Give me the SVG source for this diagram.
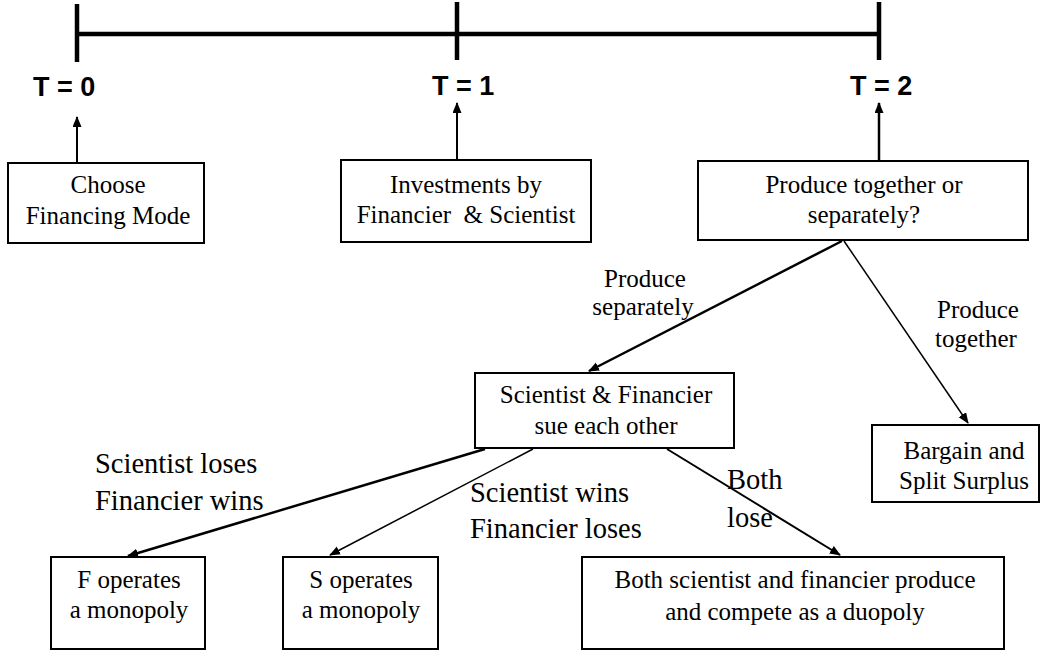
<svg xmlns="http://www.w3.org/2000/svg" width="1042" height="653" viewBox="0 0 1042 653">
<defs>
<marker id="ah" markerUnits="userSpaceOnUse" markerWidth="12" markerHeight="10" refX="10" refY="4.5" orient="auto"><path d="M0,0 L11,4.5 L0,9 z" fill="#000"/></marker>
</defs>
<style>
.box{fill:#fff;stroke:#000;stroke-width:2}
.t{font-family:"Liberation Serif","Times New Roman",serif;font-size:25px;fill:#000;text-anchor:middle}
.lab{font-family:"Liberation Serif","Times New Roman",serif;font-size:28.5px;fill:#000}
.tl{font-family:"Liberation Sans",Arial,sans-serif;font-weight:bold;font-size:27px;fill:#000}
.tline{stroke:#000;stroke-width:4.5;fill:none}
.conn{stroke:#000;fill:none}
</style>
<rect width="1042" height="653" fill="#fff"/>
<g id="timeline">
<line class="tline" x1="77" y1="34" x2="879" y2="34"/>
<line class="tline" x1="77" y1="4" x2="77" y2="62"/>
<line class="tline" x1="457" y1="2" x2="457" y2="60"/>
<line class="tline" x1="879" y1="2" x2="879" y2="60"/>
<text class="tl" x="33" y="96">T = 0</text>
<text class="tl" x="432" y="95">T = 1</text>
<text class="tl" x="850" y="95">T = 2</text>
</g>
<g id="connectors">
<line class="conn" stroke-width="2" x1="77" y1="163" x2="77" y2="117" marker-end="url(#ah)"/>
<line class="conn" stroke-width="2" x1="457" y1="160" x2="457" y2="103" marker-end="url(#ah)"/>
<line class="conn" stroke-width="2.5" x1="879" y1="160" x2="879" y2="103" marker-end="url(#ah)"/>
<line class="conn" stroke-width="2.5" x1="842" y1="241" x2="589" y2="371" marker-end="url(#ah)"/>
<line class="conn" stroke-width="1.5" x1="844" y1="241" x2="968" y2="423" marker-end="url(#ah)"/>
<line class="conn" stroke-width="2.5" x1="485" y1="449" x2="128" y2="556" marker-end="url(#ah)"/>
<line class="conn" stroke-width="1.5" x1="533" y1="449" x2="330" y2="555" marker-end="url(#ah)"/>
<line class="conn" stroke-width="2" x1="667" y1="449" x2="840" y2="555" marker-end="url(#ah)"/>
<text class="t" x="645" y="287">Produce</text>
<text class="t" x="643" y="315">separately</text>
<text class="t" x="978" y="318">Produce</text>
<text class="t" x="976" y="347">together</text>
<text class="lab" x="95" y="473">Scientist loses</text>
<text class="lab" x="95" y="510">Financier wins</text>
<text class="lab" x="470" y="502">Scientist wins</text>
<text class="lab" x="470" y="538">Financier loses</text>
<text class="lab" x="727" y="489">Both</text>
<text class="lab" x="727" y="527">lose</text>
</g>
<g id="n-choose">
<rect class="box" x="8" y="163" width="196" height="80"/>
<text class="t" x="108" y="193">Choose</text>
<text class="t" x="108" y="224">Financing Mode</text>
</g>
<g id="n-invest">
<rect class="box" x="341" y="160" width="250" height="82"/>
<text class="t" x="466" y="193">Investments by</text>
<text class="t" x="466" y="223" style="white-space:pre">Financier  &amp; Scientist</text>
</g>
<g id="n-produce">
<rect class="box" x="698" y="161" width="330" height="79" stroke-width="3"/>
<text class="t" x="864" y="193">Produce together or</text>
<text class="t" x="864" y="223">separately?</text>
</g>
<g id="n-sue">
<rect class="box" x="475" y="373" width="259" height="75"/>
<text class="t" x="606" y="403">Scientist &amp; Financier</text>
<text class="t" x="606" y="434">sue each other</text>
</g>
<g id="n-bargain">
<rect class="box" x="872" y="425" width="167" height="77"/>
<text class="t" x="964" y="459">Bargain and</text>
<text class="t" x="964" y="489">Split Surplus</text>
</g>
<g id="n-fmono">
<rect class="box" x="51" y="557" width="154" height="92"/>
<text class="t" x="129" y="588">F operates</text>
<text class="t" x="129" y="618">a monopoly</text>
</g>
<g id="n-smono">
<rect class="box" x="283" y="557" width="155" height="92"/>
<text class="t" x="361" y="588">S operates</text>
<text class="t" x="361" y="618">a monopoly</text>
</g>
<g id="n-duopoly">
<rect class="box" x="582" y="557" width="422" height="92"/>
<text class="t" x="795" y="588">Both scientist and financier produce</text>
<text class="t" x="795" y="620">and compete as a duopoly</text>
</g>
</svg>
